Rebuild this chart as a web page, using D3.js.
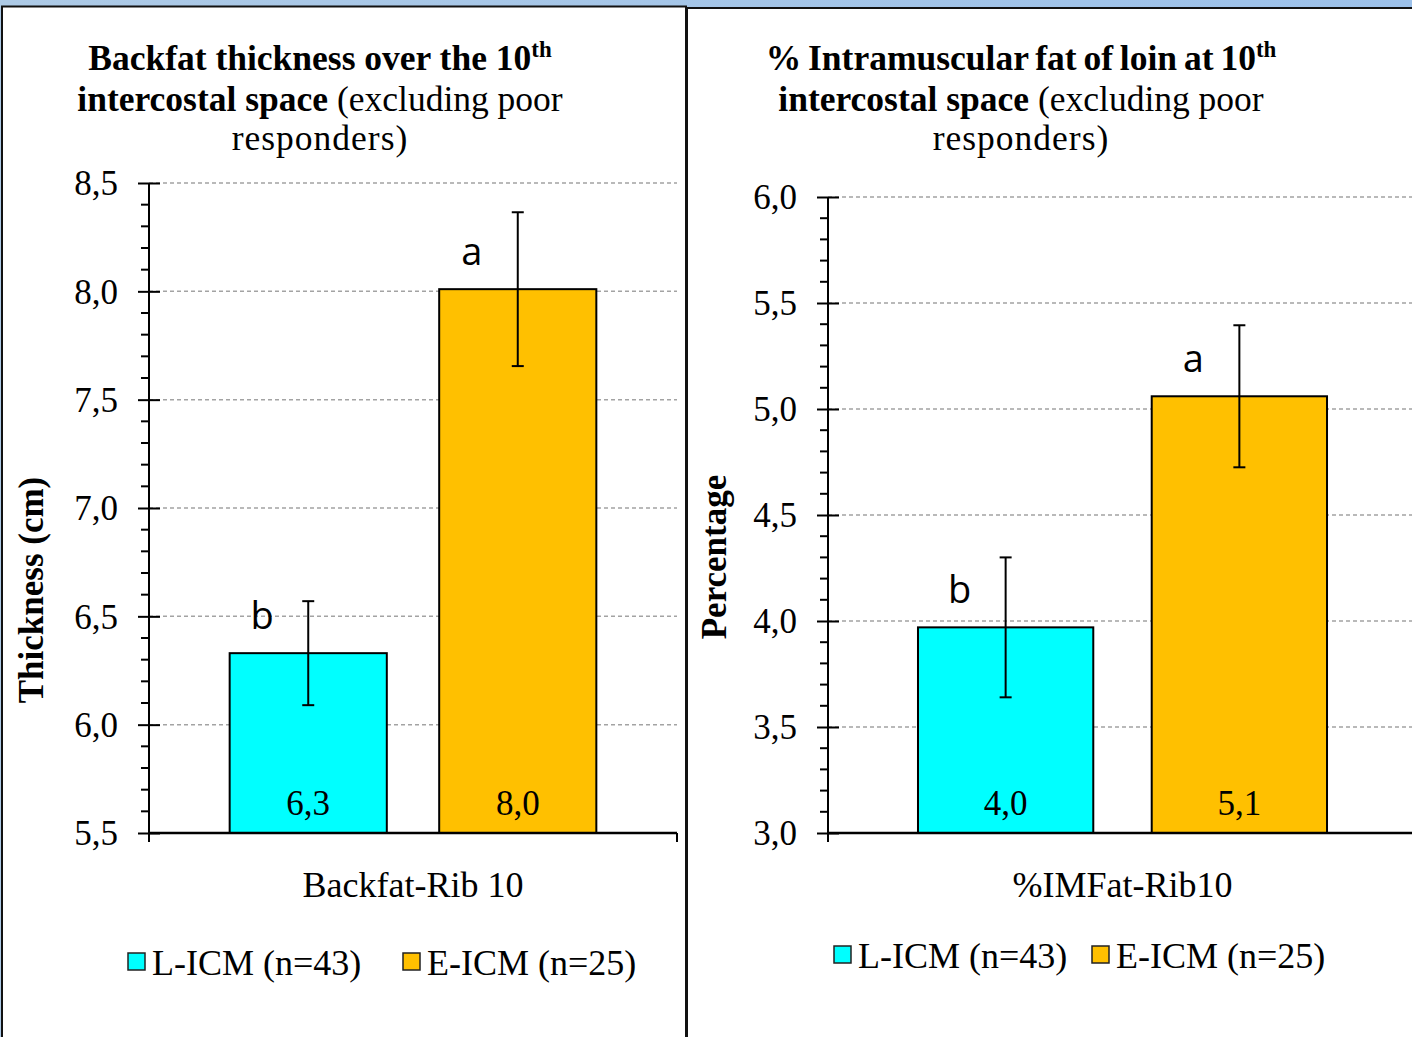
<!DOCTYPE html>
<html><head><meta charset="utf-8">
<script src="https://cdn.jsdelivr.net/npm/d3@7"></script>
<style>
html,body{margin:0;padding:0;background:#fff;}
svg{display:block;}
</style></head>
<body>
<svg id="fig" width="1412" height="1037"></svg>
<script>
// Groups compared in both charts
const seriesNames = ["L-ICM (n=43)", "E-ICM (n=25)"];
const seriesColors = ["#00ffff", "#ffc000"];

// Backfat thickness over the 10th intercostal space (cm)
const backfatCategories = ["Backfat-Rib 10"];
const backfatMeans = [6.33, 8.01];
const backfatErrors = [0.24, 0.355];
const backfatLetters = ["b", "a"];
const backfatTicks = [5.5, 6.0, 6.5, 7.0, 7.5, 8.0, 8.5];

// Intramuscular fat of loin at the 10th intercostal space (%)
const imfCategories = ["%IMFat-Rib10"];
const imfMeans = [3.97, 5.06];
const imfErrors = [0.33, 0.335];
const imfLetters = ["b", "a"];
const imfTicks = [3.0, 3.5, 4.0, 4.5, 5.0, 5.5, 6.0];

const fmt = v => d3.format(".1f")(v).replace(".", ",");
const SERIF = "'Liberation Serif','Times New Roman',serif";
const SANS = "'Open Sans','Liberation Sans',sans-serif";

const svg = d3.select("#fig");

// window background and the two framed panels
const defs = svg.append("defs");
const grad = defs.append("linearGradient").attr("id", "bg").attr("x1", 0).attr("x2", 1).attr("y1", 0).attr("y2", 0);
grad.append("stop").attr("offset", "0%").attr("stop-color", "#adcae6");
grad.append("stop").attr("offset", "100%").attr("stop-color", "#9cc1ea");
svg.append("rect").attr("width", 1412).attr("height", 1037).attr("fill", "url(#bg)");
svg.append("rect").attr("x", 687).attr("y", 8).attr("width", 800).attr("height", 1100)
  .attr("fill", "#fff").attr("stroke", "#111").attr("stroke-width", 2);
svg.append("rect").attr("x", 2).attr("y", 6.5).attr("width", 684).attr("height", 1100)
  .attr("fill", "#fff").attr("stroke", "#111").attr("stroke-width", 2);

function drawChart(cfg) {
  const g = svg.append("g");
  const y = d3.scaleLinear().domain(cfg.domain).range([cfg.bottom, cfg.top]);
  const x0 = d3.scaleBand().domain(cfg.categories).range([cfg.left, cfg.right])
    .paddingInner(0).paddingOuter(0.22);
  const x1 = d3.scaleBand().domain(seriesNames).range([0, x0.bandwidth()])
    .paddingInner(0.25).paddingOuter(0);

  // dashed gridlines
  g.append("g").selectAll("line").data(cfg.ticks.filter(t => t !== cfg.domain[0])).join("line")
    .attr("x1", cfg.left).attr("x2", cfg.right)
    .attr("y1", d => y(d)).attr("y2", d => y(d))
    .attr("stroke", "#a3a3a3").attr("stroke-width", 1.5).attr("stroke-dasharray", "4,3");

  // minor ticks every 0.1
  const minor = d3.range(cfg.domain[0] * 10, cfg.domain[1] * 10 + 1)
    .map(v => v / 10).filter(v => Math.round(v * 10) % 5 !== 0);
  g.append("g").selectAll("line").data(minor).join("line")
    .attr("x1", cfg.left - 8).attr("x2", cfg.left)
    .attr("y1", d => y(d)).attr("y2", d => y(d))
    .attr("stroke", "#000").attr("stroke-width", 2);

  // y axis with crossing major ticks
  const yAxis = g.append("g").attr("transform", `translate(${cfg.left},0)`)
    .call(d3.axisLeft(y).tickValues(cfg.ticks).tickFormat(fmt).tickSize(11).tickSizeOuter(0).tickPadding(20));
  yAxis.select(".domain").remove();
  yAxis.selectAll(".tick line").attr("x1", -11).attr("x2", 11).attr("stroke", "#000").attr("stroke-width", 2);
  yAxis.selectAll(".tick text").attr("font-family", SERIF).attr("font-size", 35).attr("fill", "#000")
    .attr("dy", "0.34em");
  g.append("line").attr("x1", cfg.left).attr("x2", cfg.left)
    .attr("y1", cfg.top).attr("y2", cfg.bottom + 9)
    .attr("stroke", "#000").attr("stroke-width", 2);

  // bars
  const rows = seriesNames.map((s, i) => ({
    cat: cfg.categories[0], series: s, mean: cfg.means[i], err: cfg.errors[i],
    letter: cfg.letters[i], color: seriesColors[i]
  }));
  const bx = d => x0(d.cat) + x1(d.series);
  const bc = d => bx(d) + x1.bandwidth() / 2;

  g.append("g").selectAll("rect").data(rows).join("rect")
    .attr("x", bx).attr("width", x1.bandwidth())
    .attr("y", d => y(d.mean)).attr("height", d => y(cfg.domain[0]) - y(d.mean))
    .attr("fill", d => d.color).attr("stroke", "#000").attr("stroke-width", 2);

  // x axis with category boundary ticks
  g.append("line").attr("x1", cfg.left).attr("x2", cfg.right)
    .attr("y1", cfg.bottom).attr("y2", cfg.bottom)
    .attr("stroke", "#000").attr("stroke-width", 2.5);
  g.append("g").selectAll("line").data([cfg.left, cfg.right]).join("line")
    .attr("x1", d => d).attr("x2", d => d)
    .attr("y1", cfg.bottom).attr("y2", cfg.bottom + 9)
    .attr("stroke", "#000").attr("stroke-width", 2);

  // error bars
  const eb = g.append("g").attr("stroke", "#000").attr("stroke-width", 2);
  eb.selectAll("line.v").data(rows).join("line").attr("class", "v")
    .attr("x1", bc).attr("x2", bc)
    .attr("y1", d => y(d.mean + d.err)).attr("y2", d => y(d.mean - d.err));
  eb.selectAll("line.t").data(rows).join("line").attr("class", "t")
    .attr("x1", d => bc(d) - 6).attr("x2", d => bc(d) + 6)
    .attr("y1", d => y(d.mean + d.err)).attr("y2", d => y(d.mean + d.err));
  eb.selectAll("line.b").data(rows).join("line").attr("class", "b")
    .attr("x1", d => bc(d) - 6).attr("x2", d => bc(d) + 6)
    .attr("y1", d => y(d.mean - d.err)).attr("y2", d => y(d.mean - d.err));

  // value labels inside the bars
  g.append("g").selectAll("text").data(rows).join("text")
    .attr("x", bc).attr("y", cfg.bottom - 18)
    .attr("text-anchor", "middle").attr("font-family", SERIF).attr("font-size", 35)
    .text(d => fmt(d.mean));

  // significance letters
  g.append("g").selectAll("text").data(rows).join("text")
    .attr("x", d => bc(d) - 46).attr("y", d => y(d.mean) - 24)
    .attr("text-anchor", "middle").attr("font-family", SANS).attr("font-size", 38)
    .text(d => d.letter);

  // category label
  g.append("text").attr("x", x0(cfg.categories[0]) + x0.bandwidth() / 2).attr("y", 897)
    .attr("text-anchor", "middle").attr("font-family", SERIF).attr("font-size", 36)
    .text(cfg.categories[0]);

  // y axis title
  g.append("text").attr("transform", `translate(${cfg.yLabelX},${cfg.yLabelY}) rotate(-90)`)
    .attr("text-anchor", "middle").attr("font-family", SERIF).attr("font-size", 35)
    .attr("font-weight", "bold").text(cfg.yLabel);

  // chart title
  const t = g.append("g").attr("font-family", SERIF).attr("font-size", 35.5).attr("text-anchor", "middle");
  const l1 = t.append("text").attr("x", cfg.titleX).attr("y", 70).attr("font-weight", "bold")
    .attr("word-spacing", cfg.titleWordSpacing);
  l1.append("tspan").text(cfg.title1);
  l1.append("tspan").attr("font-size", 23).attr("dy", -13).text("th");
  const l2 = t.append("text").attr("x", cfg.titleX).attr("y", 111);
  l2.append("tspan").attr("font-weight", "bold").text("intercostal space");
  l2.append("tspan").text(" (excluding poor");
  t.append("text").attr("x", cfg.titleX).attr("y", 150).attr("letter-spacing", 1).text("responders)");

  // legend
  const lg = g.append("g").selectAll("g").data(seriesNames).join("g")
    .attr("transform", (d, i) => `translate(${cfg.legendX[i]},${cfg.legendY})`);
  lg.append("rect").attr("x", 0).attr("y", -22).attr("width", 17).attr("height", 17)
    .attr("fill", (d, i) => seriesColors[i]).attr("stroke", "#222").attr("stroke-width", 1.5);
  lg.append("text").attr("x", 24).attr("y", 0)
    .attr("font-family", SERIF).attr("font-size", 36).text(d => d);
}

drawChart({
  categories: backfatCategories, means: backfatMeans, errors: backfatErrors,
  letters: backfatLetters, ticks: backfatTicks, domain: [5.5, 8.5],
  left: 149, right: 677, top: 183, bottom: 833,
  title1: "Backfat thickness over the 10", titleX: 320, titleWordSpacing: 0,
  yLabel: "Thickness (cm)", yLabelX: 43, yLabelY: 590,
  legendX: [128, 403], legendY: 975
});

drawChart({
  categories: imfCategories, means: imfMeans, errors: imfErrors,
  letters: imfLetters, ticks: imfTicks, domain: [3.0, 6.0],
  left: 828, right: 1417, top: 197, bottom: 833,
  title1: "% Intramuscular fat of loin at 10", titleX: 1021, titleWordSpacing: -2,
  yLabel: "Percentage", yLabelX: 726, yLabelY: 557,
  legendX: [834, 1092], legendY: 968
});
</script>
</body></html>
